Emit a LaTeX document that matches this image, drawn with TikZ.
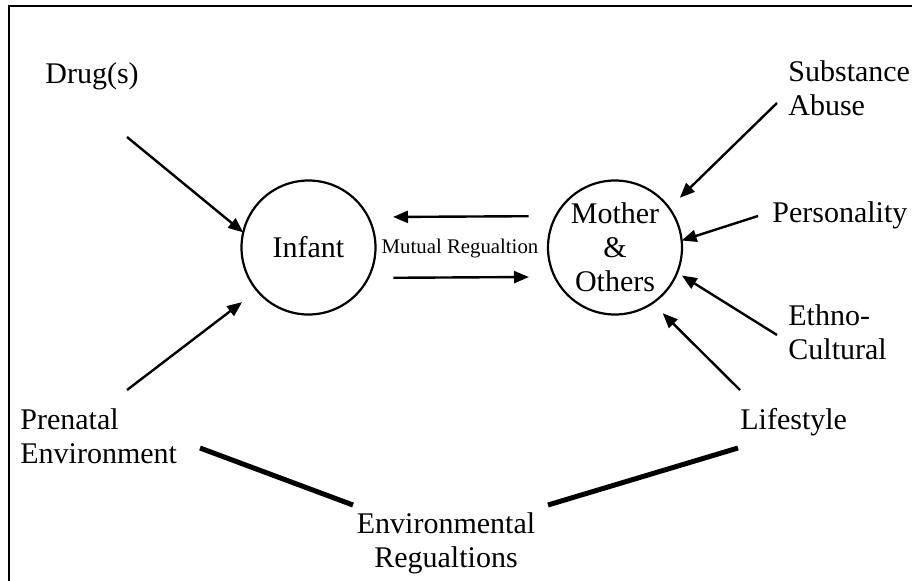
\documentclass[tikz,border=0pt]{standalone}
\usepackage{fontspec}
\setmainfont{Liberation Serif}
\usetikzlibrary{arrows.meta}

\begin{document}
\begin{tikzpicture}[
    x=0.5pt, y=-0.5pt,
    factor/.style={inner sep=0pt, align=left, anchor=base west, font=\fontsize{15}{16.75}\selectfont},
    person/.style={draw, circle, line width=1.1pt, minimum size=67pt, inner sep=0pt, outer sep=0pt, align=center, font=\fontsize{15}{17}\selectfont},
    line/.style={draw, line width=1.2pt, -{Triangle[length=7.5pt, width=6pt]}},
    link/.style={draw, line width=2.5pt}
]
    \useasboundingbox (0,0) rectangle (912,580);
    \draw [line width=1.1pt] (9,6) rectangle (940,600);

    \node [person] (infant) at (308.5,247.5) {Infant};
    \node [person] (mother) at (615,247.5) {Mother\\\&\\Others};
    \node [inner sep=0pt, font=\fontsize{10.4}{12}\selectfont] (mutual) at (460,249) {Mutual Regualtion};

    \node [factor] (drugs) at (45,83) {Drug(s)};
    \node [factor] (prenatal) at (20,463) {Prenatal\\Environment};
    \node [factor] (substance) at (788,115) {Substance\\Abuse};
    \node [factor] (personality) at (772,222) {Personality};
    \node [factor] (ethno) at (788,359) {Ethno-\\Cultural};
    \node [factor] (lifestyle) at (740,429) {Lifestyle};
    \node [factor, align=center, anchor=base] (envreg) at (446,567) {Environmental\\Regualtions};

    \coordinate (drugs-tail) at (127,137);
    \coordinate (prenatal-tail) at (127,390);
    \coordinate (substance-tail) at (777,103);
    \coordinate (personality-tail) at (758,216);
    \coordinate (ethno-tail) at (777,335);
    \coordinate (lifestyle-tail) at (740,390);
    \coordinate (prenatal-link) at (200,448);
    \coordinate (envreg-left) at (353,505);
    \coordinate (envreg-right) at (548,505);
    \coordinate (lifestyle-link) at (738,448);

    \path [line] (drugs-tail) -- (infant.167);
    \path [line, shorten >=9.5pt] (prenatal-tail) -- (infant.220);
    \path [line, shorten >=7.4pt] (substance-tail) -- (mother.36);
    \path [line] (personality-tail) -- (mother.6);
    \path [line, shorten >=2.8pt] (ethno-tail) -- (mother.338.5);
    \path [line, shorten >=7.2pt] (lifestyle-tail) -- (mother.304.4);
    \path [line, shorten <=13.6pt, shorten >=12.4pt] (mother.152.9) -- (infant.27.1);
    \path [line, shorten <=12.6pt, shorten >=12.9pt] (infant.333.9) -- (mother.206.1);

    \path [link] (prenatal-link) -- (envreg-left);
    \path [link] (envreg-right) -- (lifestyle-link);
\end{tikzpicture}
\end{document}
